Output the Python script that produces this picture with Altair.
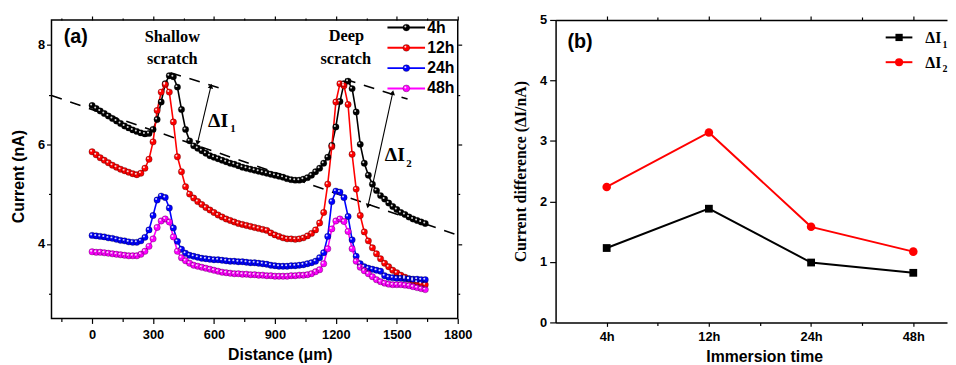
import altair as alt
import pandas as pd

# ---------------- panel (a) data ----------------
distance_um = list(range(0, 1641, 20))
current_4h = [
    6.78, 6.72, 6.67, 6.62, 6.57, 6.52, 6.47, 6.42, 6.37, 6.33,
    6.29, 6.26, 6.23, 6.21, 6.22, 6.30, 6.50, 6.85, 7.22, 7.38,
    7.36, 7.15, 6.70, 6.30, 6.07, 5.97, 5.92, 5.87, 5.82, 5.77,
    5.74, 5.71, 5.68, 5.65, 5.62, 5.60, 5.57, 5.54, 5.52, 5.50,
    5.48, 5.46, 5.44, 5.42, 5.40, 5.38, 5.36, 5.34, 5.31, 5.29,
    5.28, 5.28, 5.30, 5.33, 5.38, 5.45, 5.52, 5.62, 5.74, 5.98,
    6.35, 6.86, 7.22, 7.27, 7.12, 6.65, 6.00, 5.62, 5.38, 5.20,
    5.07, 4.97, 4.90, 4.82, 4.75, 4.69, 4.63, 4.59, 4.54, 4.50,
    4.47, 4.44, 4.41,
]
current_12h = [
    5.85, 5.79, 5.73, 5.68, 5.63, 5.58, 5.54, 5.50, 5.47, 5.44,
    5.41, 5.39, 5.42, 5.52, 5.70, 6.05, 6.68, 7.05, 7.20, 7.05,
    6.45, 5.75, 5.45, 5.15, 5.00, 4.92, 4.85, 4.79, 4.73, 4.68,
    4.63, 4.58, 4.54, 4.50, 4.47, 4.44, 4.41, 4.39, 4.37, 4.35,
    4.33, 4.31, 4.29, 4.27, 4.22, 4.18, 4.15, 4.12, 4.10, 4.10,
    4.09, 4.10, 4.12, 4.16, 4.21, 4.28, 4.42, 4.63, 5.20, 5.95,
    6.85, 7.22, 7.18, 6.80, 5.80, 5.10, 4.57, 4.24, 4.06, 3.92,
    3.80, 3.70, 3.61, 3.54, 3.47, 3.42, 3.37, 3.33, 3.29, 3.26,
    3.23, 3.20, 3.18,
]
current_24h = [
    4.17, 4.16, 4.15, 4.14, 4.12, 4.11, 4.09, 4.07, 4.06, 4.04,
    4.03, 4.03, 4.06, 4.13, 4.28, 4.57, 4.88, 4.96, 4.93, 4.72,
    4.32, 4.05, 3.89, 3.81, 3.77, 3.75, 3.73, 3.71, 3.70, 3.69,
    3.68, 3.68, 3.67, 3.66, 3.65, 3.65, 3.64, 3.64, 3.63, 3.62,
    3.62, 3.61, 3.60, 3.59, 3.57, 3.56, 3.55, 3.55, 3.55, 3.56,
    3.56, 3.57, 3.58, 3.60, 3.62, 3.65, 3.72, 3.82, 4.15, 4.85,
    5.06, 5.04, 4.93, 4.55, 4.08, 3.75, 3.60, 3.54, 3.51, 3.49,
    3.47, 3.45, 3.36, 3.33, 3.32, 3.31, 3.31, 3.30, 3.30, 3.29,
    3.29, 3.28, 3.28,
]
current_48h = [
    3.84, 3.83, 3.83, 3.82, 3.81, 3.80, 3.79, 3.78, 3.77, 3.76,
    3.76, 3.76, 3.79, 3.85, 3.95, 4.10, 4.33, 4.46, 4.50, 4.44,
    4.14, 3.85, 3.72, 3.66, 3.61, 3.57, 3.55, 3.53, 3.51, 3.49,
    3.47, 3.45, 3.43, 3.42, 3.41, 3.40, 3.40, 3.39, 3.39, 3.38,
    3.38, 3.37, 3.37, 3.36, 3.36, 3.35, 3.35, 3.35, 3.35, 3.36,
    3.36, 3.37, 3.37, 3.38, 3.40, 3.44, 3.48, 3.60, 3.90, 4.30,
    4.46, 4.50, 4.45, 4.25, 3.90, 3.65, 3.53, 3.46, 3.40, 3.34,
    3.28, 3.24, 3.21, 3.19, 3.18, 3.18, 3.18, 3.17, 3.16, 3.14,
    3.12, 3.10, 3.08,
]
series_names = ["4h", "12h", "24h", "48h"]
series_colors = ["#000000", "#ff0000", "#0000ff", "#ff00ff"]

dash_seg = ["base", "base", "peak1", "peak1", "peak2", "peak2"]
dash_d = [-200, 1790, 386, 629, 1245, 1553]
dash_v = [6.98, 4.19, 7.44, 7.13, 7.31, 6.91]

arrow_seg = ["a1", "a1", "a2", "a2"]
arrow_d = [519, 585, 1358, 1480]
arrow_v = [6.03, 7.17, 4.76, 7.04]
arrow_angle = [193, 13, 192, 12]

# ---------------- panel (b) data ----------------
immersion_times = ["4h", "12h", "24h", "48h"]
delta_i1 = [1.23, 1.88, 0.99, 0.82]
delta_i2 = [2.24, 3.14, 1.58, 1.17]
delta_names = ["ΔI1", "ΔI2"]
delta_subs = ["1", "2"]
delta_colors = ["#000000", "#ff0000"]
delta_shapes = ["square", "circle"]

# ---------------- frames ----------------
rows = []
for name, vals in zip(series_names, [current_4h, current_12h, current_24h, current_48h]):
    for d, v in zip(distance_um, vals):
        rows.append({"curve": name, "d": d, "v": v})
curves = pd.DataFrame(rows)
dash_df = pd.DataFrame({"seg": dash_seg, "d": dash_d, "v": dash_v})
arrow_df = pd.DataFrame({"seg": arrow_seg, "d": arrow_d, "v": arrow_v, "ang": arrow_angle})

rows_b = []
for name, vals in zip(delta_names, [delta_i1, delta_i2]):
    for i, (t, v) in enumerate(zip(immersion_times, vals)):
        rows_b.append({"delta": name, "time": t, "idx": i + 1, "val": v})
diff_df = pd.DataFrame(rows_b)

# legend layout (panel a): top-right corner block, in the panel's own units
LEG_A_TOP, LEG_A_STEP = 8.347, 0.4075
LEG_A_X0, LEG_A_X1, LEG_A_MID, LEG_A_TXT = 1454, 1639, 1547, 1650
leg_a_lines = pd.DataFrame([
    {"curve": n, "d": x, "v": LEG_A_TOP - i * LEG_A_STEP}
    for i, n in enumerate(series_names) for x in (LEG_A_X0, LEG_A_X1)])
leg_a_pts = pd.DataFrame([
    {"curve": n, "d": LEG_A_MID, "v": LEG_A_TOP - i * LEG_A_STEP} for i, n in enumerate(series_names)])
leg_a_txt = pd.DataFrame([
    {"t": n, "d": LEG_A_TXT, "v": LEG_A_TOP - i * LEG_A_STEP} for i, n in enumerate(series_names)])

# legend layout (panel b)
LEG_B_TOP, LEG_B_STEP = 4.711, 0.409
LEG_B_X0, LEG_B_X1, LEG_B_MID, LEG_B_TXT, LEG_B_SUB = 3.73, 3.991, 3.861, 4.117, 4.285
leg_b_lines = pd.DataFrame([
    {"delta": n, "idx": x, "val": LEG_B_TOP - i * LEG_B_STEP}
    for i, n in enumerate(delta_names) for x in (LEG_B_X0, LEG_B_X1)])
leg_b_pts = pd.DataFrame([
    {"delta": n, "idx": LEG_B_MID, "val": LEG_B_TOP - i * LEG_B_STEP} for i, n in enumerate(delta_names)])
leg_b_txt = pd.DataFrame([
    {"t": "ΔI", "idx": LEG_B_TXT, "val": LEG_B_TOP - i * LEG_B_STEP - 0.09} for i in range(len(delta_names))])
leg_b_sub = pd.DataFrame([
    {"t": s, "idx": LEG_B_SUB, "val": LEG_B_TOP - i * LEG_B_STEP - 0.17} for i, s in enumerate(delta_subs)])

SANS = "Liberation Sans"
SERIF = "Liberation Serif"

# ---------------- panel (a) ----------------
XS_A = alt.Scale(domain=[-200, 1800], nice=False, zero=False)
YS_A = alt.Scale(domain=[2.5, 8.5], nice=False, zero=False)
X_TICKS_A = list(range(-150, 1801, 150))
Y_TICKS_A = [3, 4, 5, 6, 7, 8]
x_axis_a = alt.Axis(
    values=X_TICKS_A,
    labelExpr="(datum.value % 300 === 0 && datum.value >= 0) ? datum.label : ''",
    format="d", labelFlush=False,
    tickSize={"condition": {"test": "datum.value % 300 === 0", "value": 5}, "value": 3},
    title="Distance (μm)", titleX=231, titleFont=SANS, titleFontSize=16, titleFontWeight="bold",
    titlePadding=6, labelPadding=5, domain=False, grid=False,
)
y_axis_a = alt.Axis(
    values=Y_TICKS_A,
    labelExpr="datum.value % 2 === 0 ? datum.label : ''",
    tickSize={"condition": {"test": "datum.value % 2 === 0", "value": 5}, "value": 3},
    title="Current (nA)", titleY=158, titleFont=SANS, titleFontSize=16, titleFontWeight="bold",
    titlePadding=11, labelPadding=2, domain=False, grid=False,
)
XA = alt.X("d:Q", scale=XS_A, axis=x_axis_a)
YA = alt.Y("v:Q", scale=YS_A, axis=y_axis_a)
color_a = alt.Color("curve:N", scale=alt.Scale(domain=series_names, range=series_colors), legend=None)


def dotted(df, size):
    """Sphere-like markers: coloured disc, thin dark rim, small white highlight."""
    return [
        alt.Chart(df).mark_point(filled=True, size=size, opacity=1).encode(x=XA, y=YA, color=color_a),
        alt.Chart(df).mark_point(filled=False, size=size, color="black", strokeWidth=0.6, opacity=0.45).encode(
            x=XA, y=YA),
        alt.Chart(df).mark_point(filled=True, size=4, color="white", opacity=0.85, xOffset=-1, yOffset=-1).encode(
            x=XA, y=YA),
    ]


dash_layer = alt.Chart(dash_df).mark_line(color="black", strokeWidth=1.6, strokeDash=[11, 9], clip=True).encode(
    x=XA, y=YA, detail="seg:N")
arrow_lines = alt.Chart(arrow_df).mark_line(color="black", strokeWidth=1.1).encode(x=XA, y=YA, detail="seg:N")
arrow_heads = alt.Chart(arrow_df).mark_point(shape="triangle-up", filled=True, color="black", size=30, opacity=1).encode(
    x=XA, y=YA, angle=alt.Angle("ang:Q", scale=None))

curve_lines = alt.Chart(curves).mark_line(strokeWidth=1.6).encode(x=XA, y=YA, color=color_a)

leg_a_line_layer = alt.Chart(leg_a_lines).mark_line(strokeWidth=2).encode(x=XA, y=YA, color=color_a)
leg_a_txt_layer = alt.Chart(leg_a_txt).mark_text(
    font=SANS, fontWeight="bold", fontSize=16, align="left", baseline="middle", color="black").encode(
    x=XA, y=YA, text="t:N")

serif_txt = pd.DataFrame({"t": ["Shallow", "scratch", "Deep", "scratch"],
                          "d": [395, 395, 1252, 1249], "v": [8.055, 7.62, 8.075, 7.62]})
serif_layer = alt.Chart(serif_txt).mark_text(font=SERIF, fontWeight="bold", fontSize=16.5, baseline="alphabetic",
                                             align="center", color="black").encode(x=XA, y=YA, text="t:N")
label_a = alt.Chart(pd.DataFrame({"t": ["(a)"], "d": [-140], "v": [8.03]})).mark_text(
    font=SANS, fontWeight="bold", fontSize=20, align="left", baseline="alphabetic").encode(x=XA, y=YA, text="t:N")
delta_main = alt.Chart(pd.DataFrame({"t": ["ΔI", "ΔI"], "d": [571, 1441], "v": [6.34, 5.67]})).mark_text(
    font=SERIF, fontWeight="bold", fontSize=20, align="left", baseline="alphabetic").encode(x=XA, y=YA, text="t:N")
delta_sub = alt.Chart(pd.DataFrame({"t": ["1", "2"], "d": [680, 1547], "v": [6.25, 5.55]})).mark_text(
    font=SERIF, fontWeight="bold", fontSize=11, align="left", baseline="alphabetic").encode(x=XA, y=YA, text="t:N")

# mirrored tick marks on the top and right edges of panel (a)
mirror_a = alt.Chart(dash_df).mark_point(opacity=0).encode(
    x=alt.X("d:Q", scale=XS_A, axis=alt.Axis(
        orient="top", values=X_TICKS_A, labels=False, title=None, domain=False, grid=False,
        tickSize={"condition": {"test": "datum.value % 300 === 0", "value": 4}, "value": 2})),
    y=alt.Y("v:Q", scale=YS_A, axis=alt.Axis(
        orient="right", values=Y_TICKS_A, labels=False, title=None, domain=False, grid=False,
        tickSize={"condition": {"test": "datum.value % 2 === 0", "value": 4}, "value": 2})),
)

left_main = alt.layer(
    dash_layer, arrow_lines, arrow_heads, curve_lines, *dotted(curves, 42),
    leg_a_line_layer, *dotted(leg_a_pts, 48), leg_a_txt_layer,
    serif_layer, label_a, delta_main, delta_sub,
)
left = alt.layer(left_main, mirror_a).resolve_axis(x="independent", y="independent").properties(
    width=411, height=302, view=alt.ViewBackground(stroke="black", strokeWidth=1.5))

# ---------------- panel (b) ----------------
XS_B = alt.Scale(domain=[0.5, 4.33], nice=False, zero=False)
YS_B = alt.Scale(domain=[0, 5], nice=False, zero=False)
X_TICKS_B = [1, 1.5, 2, 2.5, 3, 3.5, 4]
label_expr_b = " : ".join(
    f"datum.value === {i + 1} ? '{t}'" for i, t in enumerate(immersion_times)) + " : ''"
x_axis_b = alt.Axis(
    values=X_TICKS_B, labelExpr=label_expr_b, labelFlush=False,
    tickSize={"condition": {"test": "datum.value % 1 === 0", "value": 4}, "value": 3},
    title="Immersion time", titleX=211, titleFont=SANS, titleFontSize=16, titleFontWeight="bold",
    titlePadding=6, labelPadding=4, domain=True, domainColor="black", domainWidth=1.5, grid=False,
)
y_axis_b = alt.Axis(
    values=[0, 0.5, 1, 1.5, 2, 2.5, 3, 3.5, 4, 4.5, 5], format="d",
    labelExpr="datum.value % 1 === 0 ? datum.label : ''",
    tickSize={"condition": {"test": "datum.value % 1 === 0", "value": 6}, "value": 3},
    title="Current difference (ΔI/nA)", titleFont=SERIF, titleFontSize=16, titleFontWeight="bold",
    titlePadding=11, labelPadding=3, domain=True, domainColor="black", domainWidth=1.5, grid=False,
)
XB = alt.X("idx:Q", scale=XS_B, axis=x_axis_b)
YB = alt.Y("val:Q", scale=YS_B, axis=y_axis_b)
color_b = alt.Color("delta:N", scale=alt.Scale(domain=delta_names, range=delta_colors), legend=None)

lines_b = alt.Chart(diff_df).mark_line(strokeWidth=2).encode(x=XB, y=YB, color=color_b)
leg_b_line_layer = alt.Chart(leg_b_lines).mark_line(strokeWidth=2).encode(x=XB, y=YB, color=color_b)
pts_b = []
for name, col, shp in zip(delta_names, delta_colors, delta_shapes):
    size = 62 if shp == "square" else 75
    for src, sz in ((diff_df, size), (leg_b_pts, size - 8)):
        pts_b.append(alt.Chart(src).transform_filter(alt.datum.delta == name).mark_point(
            shape=shp, filled=True, size=sz, opacity=1, color=col).encode(x=XB, y=YB))
leg_b_txt_layer = alt.Chart(leg_b_txt).mark_text(
    font=SERIF, fontWeight="bold", fontSize=16, align="left", baseline="alphabetic", color="black").encode(
    x=XB, y=YB, text="t:N")
leg_b_sub_layer = alt.Chart(leg_b_sub).mark_text(
    font=SERIF, fontWeight="bold", fontSize=10, align="left", baseline="alphabetic", color="black").encode(
    x=XB, y=YB, text="t:N")
label_b = alt.Chart(pd.DataFrame({"t": ["(b)"], "idx": [0.616], "val": [4.53]})).mark_text(
    font=SANS, fontWeight="bold", fontSize=20, align="left", baseline="alphabetic").encode(x=XB, y=YB, text="t:N")

# top frame line of panel (b) with its tick marks
mirror_b = alt.Chart(diff_df).mark_point(opacity=0).encode(
    x=alt.X("idx:Q", scale=XS_B, axis=alt.Axis(
        orient="top", values=X_TICKS_B, labels=False, title=None, grid=False,
        domain=True, domainColor="black", domainWidth=1.5,
        tickSize={"condition": {"test": "datum.value % 1 === 0", "value": 4}, "value": 3})),
    y=YB,
)

right_main = alt.layer(lines_b, leg_b_line_layer, *pts_b, leg_b_txt_layer, leg_b_sub_layer, label_b)
right = alt.layer(right_main, mirror_b).resolve_axis(x="independent").properties(width=396, height=306)

chart = alt.hconcat(left, right, spacing=39).resolve_scale(color="independent").properties(
    padding={"left": 2, "top": 4, "right": 0, "bottom": 0}
).configure_view(stroke=None).configure_axis(
    labelFont=SANS, labelFontWeight="bold", labelFontSize=13, labelColor="black",
    tickColor="black", tickWidth=1.2, titleColor="black",
)

chart.save("out.html", embed_options={"renderer": "svg", "actions": False})
